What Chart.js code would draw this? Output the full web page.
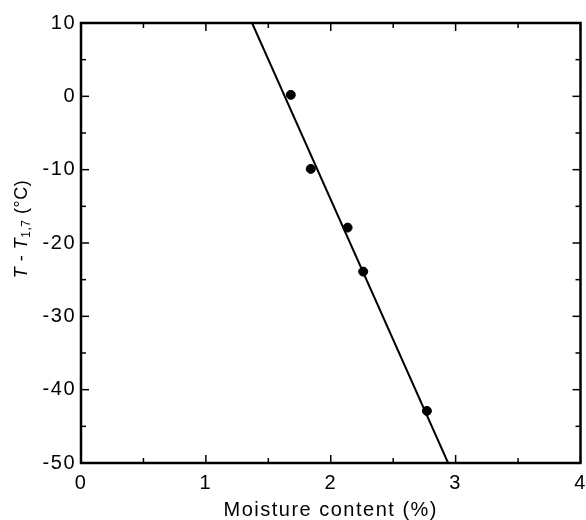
<!DOCTYPE html>
<html>
<head>
<meta charset="utf-8">
<script src="https://cdn.jsdelivr.net/npm/chart.js@4"></script>
<style>
  html, body { margin: 0; padding: 0; background: #fff; }
  #wrap { width: 586px; height: 520px; }
</style>
</head>
<body>
<div id="wrap"><canvas id="moistureChart"></canvas></div>
<script>
Chart.defaults.font.family = '"Liberation Sans", Arial, sans-serif';
Chart.defaults.color = '#000';

// measured points: moisture content (%) vs T - T1,7 (°C)
const moisture = [1.68, 1.84, 2.135, 2.26, 2.77];
const tempDiff = [0.2, -9.9, -17.9, -23.9, -42.9];

// fitted line, read at the edges of the frame
const fitX = [1.37, 2.94];
const fitY = [10, -50];

// tick positions
const xMajor = [0, 1, 2, 3, 4];
const xMinor = [0.5, 1.5, 2.5, 3.5];
const yMajor = [-50, -40, -30, -20, -10, 0, 10];
const yMinor = [-45, -35, -25, -15, -5, 5];

const frameAndTicks = {
    id: 'frameAndTicks',
    beforeDraw(chart) {
        // the scanned figure has widely spaced lettering
        chart.ctx.letterSpacing = '1.5px';
    },
    afterDraw(chart) {
        const {ctx, chartArea: a, scales: {x, y}} = chart;
        ctx.save();
        ctx.strokeStyle = '#000';
        ctx.lineWidth = 1.5;
        const mark = (px, py, dx, dy) => {
            ctx.beginPath();
            ctx.moveTo(px, py);
            ctx.lineTo(px + dx, py + dy);
            ctx.stroke();
        };
        xMajor.forEach(v => {
            const p = x.getPixelForValue(v);
            mark(p, a.bottom, 0, -8);
            mark(p, a.top, 0, 8);
        });
        xMinor.forEach(v => {
            const p = x.getPixelForValue(v);
            mark(p, a.bottom, 0, -5);
            mark(p, a.top, 0, 5);
        });
        yMajor.forEach(v => {
            const p = y.getPixelForValue(v);
            mark(a.left, p, 8, 0);
            mark(a.right, p, -8, 0);
        });
        yMinor.forEach(v => {
            const p = y.getPixelForValue(v);
            mark(a.left, p, 5, 0);
            mark(a.right, p, -5, 0);
        });
        ctx.lineWidth = 2.5;
        ctx.strokeRect(a.left, a.top, a.right - a.left, a.bottom - a.top);

        // y axis title with italic T and subscript
        ctx.letterSpacing = '0.5px';
        const fam = Chart.defaults.font.family;
        const parts = [
            {t: 'T', f: 'italic 18px ' + fam, dy: 0},
            {t: ' - ', f: '18px ' + fam, dy: 0},
            {t: 'T', f: 'italic 18px ' + fam, dy: 0},
            {t: '1,7', f: '12px ' + fam, dy: 5},
            {t: ' (°C)', f: '18px ' + fam, dy: 0}
        ];
        let total = 0;
        parts.forEach(p => { ctx.font = p.f; p.w = ctx.measureText(p.t).width; total += p.w; });
        ctx.translate(22, 229);
        ctx.rotate(-Math.PI / 2);
        ctx.fillStyle = '#000';
        ctx.textBaseline = 'middle';
        ctx.textAlign = 'left';
        let cx = -total / 2;
        parts.forEach(p => {
            ctx.font = p.f;
            ctx.fillText(p.t, cx, p.dy);
            cx += p.w;
        });
        ctx.restore();
    }
};

new Chart(document.getElementById('moistureChart'), {
    type: 'scatter',
    data: {
        datasets: [
            {
                type: 'line',
                data: fitX.map((v, i) => ({x: v, y: fitY[i]})),
                borderColor: '#000',
                borderWidth: 2,
                pointRadius: 0,
                fill: false
            },
            {
                data: moisture.map((v, i) => ({x: v, y: tempDiff[i]})),
                backgroundColor: '#000',
                borderColor: '#000',
                pointRadius: 4.5
            }
        ]
    },
    options: {
        responsive: true,
        maintainAspectRatio: false,
        animation: false,
        layout: {padding: {left: 0, right: 3, top: 23, bottom: 0}},
        plugins: {legend: {display: false}, tooltip: {enabled: false}},
        scales: {
            x: {
                type: 'linear',
                min: 0, max: 4,
                grid: {display: false, drawTicks: false},
                border: {display: false},
                ticks: {stepSize: 1, padding: 8, font: {size: 20}, color: '#000'},
                title: {display: true, text: 'Moisture content (%)', font: {size: 20, lineHeight: 1}, color: '#000', padding: {top: 0, bottom: 0}},
                afterFit(s) { s.height = 57; s.paddingLeft = 0; s.paddingRight = 0; }
            },
            y: {
                type: 'linear',
                min: -50, max: 10,
                grid: {display: false, drawTicks: false},
                border: {display: false},
                ticks: {stepSize: 10, padding: 5, font: {size: 20}, color: '#000'},
                afterFit(s) { s.width = 81; s.paddingTop = 0; s.paddingBottom = 0; }
            }
        }
    },
    plugins: [frameAndTicks]
});
</script>
</body>
</html>
